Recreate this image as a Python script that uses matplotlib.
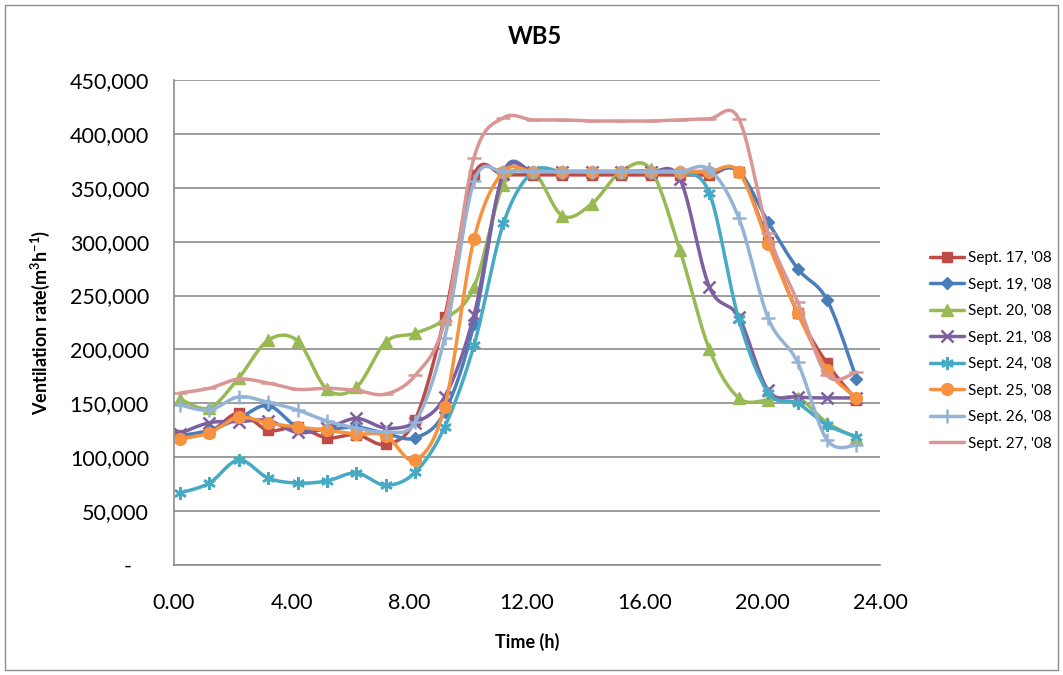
import numpy as np
import matplotlib
matplotlib.use("Agg")
import matplotlib.pyplot as plt
from matplotlib.patches import Rectangle
from matplotlib.ticker import FuncFormatter

# ── Data ──────────────────────────────────────────────────────────────────────
hours = [0.2, 1.2, 2.2, 3.2, 4.2, 5.2, 6.2, 7.2, 8.2, 9.2, 10.2, 11.2,
         12.2, 13.2, 14.2, 15.2, 16.2, 17.2, 18.2, 19.2, 20.2, 21.2, 22.2, 23.2]

sept17 = [120600, 123000, 141000, 125000, 128000, 118000, 121000, 112000,
          135000, 230000, 362000, 362000, 362000, 362000, 362000, 362000,
          362000, 362000, 362000, 365000, 300000, 234000, 187000, 153000]
sept19 = [120000, 125000, 136000, 148000, 128000, 126000, 128000, 122000,
          118000, 142000, 224000, 364000, 365000, 365000, 365000, 365000,
          365000, 365000, 365000, 365000, 318000, 275000, 246000, 173000]
sept20 = [154000, 145700, 173500, 208500, 208000, 163000, 165000, 207000,
          215000, 228000, 258000, 353000, 365000, 324000, 335000, 365000,
          367000, 292000, 200000, 155000, 153000, 155000, 132000, 118000]
sept21 = [122000, 132000, 133000, 134000, 123000, 127000, 136000, 127000,
          132000, 156000, 232000, 363000, 365000, 365000, 365000, 365000,
          365000, 358000, 258000, 230000, 162000, 156000, 155000, 155000]
sept24 = [66800, 76000, 97400, 80700, 76000, 78000, 85400, 74000,
          86000, 128000, 204000, 317000, 365000, 365000, 365000, 365000,
          365000, 364000, 345000, 228000, 160000, 150000, 130000, 119000]
sept25 = [117000, 122600, 137000, 131600, 128000, 125000, 121500, 120000,
          97400, 146600, 302500, 365000, 365000, 365000, 365000, 365000,
          365000, 365000, 365000, 365000, 297800, 233800, 181000, 155000]
sept26 = [148500, 143800, 156000, 151000, 143800, 133600, 127000, 123400,
          132700, 210600, 356000, 365000, 365000, 365000, 365000, 365000,
          365000, 365000, 367000, 322000, 229000, 188000, 116000, 111000]
sept27 = [159600, 164000, 172500, 168800, 163000, 164000, 162000, 158600,
          176000, 226000, 378000, 415000, 413000, 413000, 412000, 412000,
          412000, 413000, 414000, 414000, 308000, 244000, 176000, 179000]

labels = ["Sept. 17, '08", "Sept. 19, '08", "Sept. 20, '08", "Sept. 21, '08",
          "Sept. 24, '08", "Sept. 25, '08", "Sept. 26, '08", "Sept. 27, '08"]
series = [sept17, sept19, sept20, sept21, sept24, sept25, sept26, sept27]

x_ticks = [0, 4, 8, 12, 16, 20, 24]
y_ticks = [0, 50000, 100000, 150000, 200000, 250000, 300000, 350000, 400000, 450000]

# ── Style ─────────────────────────────────────────────────────────────────────
COLORS  = ['#BE4B48', '#4A7EBB', '#98B954', '#7D60A0',
           '#46AAC5', '#F69240', '#95B3D7', '#D99694']
MARKERS = ['s', 'D', '^', 'x', (6, 2, 0), 'o', '+', '_']
MSIZES  = [7, 6, 8, 8, 9, 8.5, 10, 10]
GRID_COL = '#8C8C8C'
FONT = 'Lato'

plt.rcParams['font.family'] = [FONT, 'DejaVu Sans']
plt.rcParams['mathtext.fontset'] = 'custom'
plt.rcParams['mathtext.rm'] = FONT
plt.rcParams['mathtext.bf'] = FONT + ':bold'

N_SEG = 16


def excel_smooth(xs, ys, n=N_SEG):
    # Catmull-Rom style bezier, like Excel's "smoothed line"
    px = np.asarray(xs, float)
    py = np.asarray(ys, float)
    t = np.linspace(0, 1, n + 1)[1:]
    out_x, out_y = [px[0]], [py[0]]
    last = len(px) - 1
    for i in range(last):
        i0, i3 = max(i - 1, 0), min(i + 2, last)
        c1x = px[i] + (px[i + 1] - px[i0]) / 6
        c1y = py[i] + (py[i + 1] - py[i0]) / 6
        c2x = px[i + 1] - (px[i3] - px[i]) / 6
        c2y = py[i + 1] - (py[i3] - py[i]) / 6
        a, b, c, d = (1 - t) ** 3, 3 * (1 - t) ** 2 * t, 3 * (1 - t) * t ** 2, t ** 3
        out_x.extend(a * px[i] + b * c1x + c * c2x + d * px[i + 1])
        out_y.extend(a * py[i] + b * c1y + c * c2y + d * py[i + 1])
    return np.array(out_x), np.array(out_y)


# ── Figure ────────────────────────────────────────────────────────────────────
fig = plt.figure(figsize=(10.63, 6.75), dpi=100)
fig.patch.set_facecolor('white')
fig.patches.append(Rectangle((5 / 1063, 5 / 675), 1053 / 1063, 665 / 675,
                             transform=fig.transFigure, fill=False,
                             edgecolor='#8C8C8C', linewidth=1.0))

ax = fig.add_axes([174 / 1063, 1 - 565 / 675, 706 / 1063, 485 / 675])

for vals, lab, col, mk, ms in zip(series, labels, COLORS, MARKERS, MSIZES):
    sx, sy = excel_smooth(hours, vals)
    mew = 1.8 if mk in ('x', '+', '_', (6, 2, 0)) else 1.0
    ax.plot(sx, sy, color=col, linewidth=2.5, marker=mk, markersize=ms,
            markevery=N_SEG, markerfacecolor=col, markeredgecolor=col,
            markeredgewidth=mew, label=lab, solid_capstyle='round')

ax.set_xlim(0, 24)
ax.set_ylim(0, 450000)
ax.set_xticks(x_ticks)
ax.set_yticks(y_ticks)
ax.xaxis.set_major_formatter(FuncFormatter(lambda v, p: f"{v:.2f}"))
ax.yaxis.set_major_formatter(FuncFormatter(lambda v, p: "-   " if v == 0 else f"{v:,.0f}"))
ax.tick_params(axis='both', length=0, labelsize=15.5, colors='black')
ax.tick_params(axis='x', pad=20)
ax.tick_params(axis='y', pad=18)

ax.grid(axis='y', color=GRID_COL, linewidth=1.2, zorder=0)
ax.set_axisbelow(True)
for side in ('top', 'right'):
    ax.spines[side].set_visible(False)
for side in ('left', 'bottom'):
    ax.spines[side].set_color(GRID_COL)
    ax.spines[side].set_linewidth(1.2)

# ── Text ──────────────────────────────────────────────────────────────────────
fig.text(535 / 1063, 1 - 36 / 675, 'WB5', ha='center', va='center',
         fontsize=17, fontweight='bold')
fig.text(527 / 1063, 1 - 642 / 675, 'Time (h)', ha='center', va='center',
         fontsize=13, fontweight='bold')
fig.text(40 / 1063, 1 - 322 / 675,
         r'Ventilation rate(m$^{\mathbf{3}}$h$^{\mathbf{-1}}$)',
         ha='center', va='center', rotation=90, fontsize=13, fontweight='bold')

fig.legend(loc='upper left', bbox_to_anchor=(930 / 1063, 1 - 251 / 675),
           bbox_transform=fig.transFigure, frameon=False, fontsize=11,
           borderpad=0, handlelength=2.2, handletextpad=0.3,
           labelspacing=0.82, numpoints=1, borderaxespad=0)

plt.savefig('out.png', dpi=100, facecolor='white')
